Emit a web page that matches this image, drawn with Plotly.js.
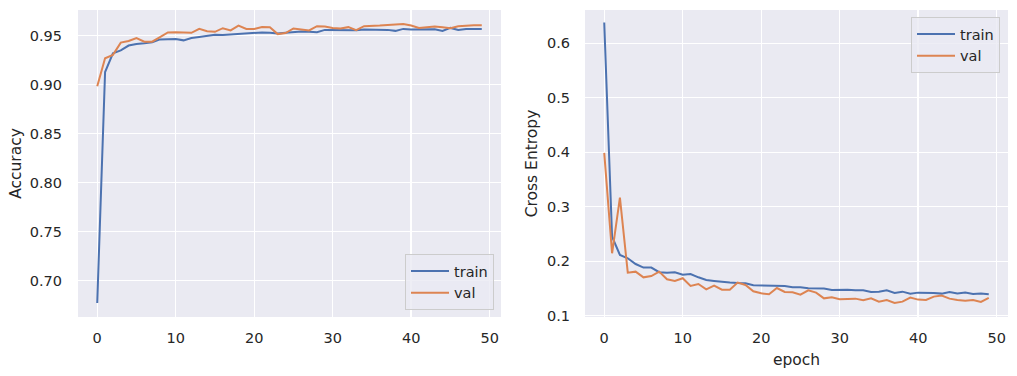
<!DOCTYPE html>
<html>
<head>
<meta charset="utf-8">
<script src="https://cdn.plot.ly/plotly-3.0.1.min.js"></script>
<style>
  html, body { margin: 0; padding: 0; background: #ffffff; }
  #chart { width: 1017px; height: 376px; }
</style>
</head>
<body>
<div id="chart"></div>
<script>
const epochs = Array.from({length: 50}, (_, i) => i);

const accTrain = [0.677, 0.913, 0.932, 0.935, 0.940, 0.9416, 0.9423, 0.9433, 0.9463, 0.9463,
  0.9466, 0.9453, 0.9476, 0.9487, 0.950, 0.951, 0.9507, 0.9513, 0.952, 0.9527,
  0.9534, 0.9534, 0.953, 0.9524, 0.953, 0.9537, 0.9544, 0.954, 0.9537, 0.956,
  0.956, 0.9557, 0.9554, 0.9557, 0.9564, 0.9564, 0.9557, 0.956, 0.955, 0.957,
  0.9564, 0.9564, 0.957, 0.9567, 0.955, 0.958, 0.956, 0.957, 0.957, 0.957];

const accVal = [0.8985, 0.927, 0.9305, 0.943, 0.9446, 0.9476, 0.944, 0.944, 0.9487, 0.9534,
  0.9537, 0.9537, 0.953, 0.957, 0.9547, 0.954, 0.9577, 0.9554, 0.9604, 0.957,
  0.957, 0.959, 0.9588, 0.9517, 0.9527, 0.9574, 0.9564, 0.9554, 0.9598, 0.9594,
  0.958, 0.9574, 0.9588, 0.9557, 0.9598, 0.9598, 0.9604, 0.961, 0.9618, 0.962,
  0.9604, 0.958, 0.9588, 0.9594, 0.9588, 0.9577, 0.9598, 0.9604, 0.9608, 0.9608];

const ceTrain = [0.638, 0.245, 0.2116, 0.2055, 0.195, 0.1884, 0.1884, 0.180, 0.179, 0.180,
  0.1755, 0.1767, 0.1706, 0.1657, 0.164, 0.162, 0.161, 0.160, 0.1596, 0.156,
  0.156, 0.1554, 0.1547, 0.1547, 0.1523, 0.1523, 0.1505, 0.150, 0.150, 0.1474,
  0.148, 0.148, 0.1468, 0.1468, 0.1437, 0.1443, 0.1468, 0.142, 0.1443, 0.1407,
  0.1425, 0.1425, 0.142, 0.1407, 0.1437, 0.141, 0.1425, 0.140, 0.141, 0.1395];

const ceVal = [0.399, 0.2147, 0.3168, 0.1792, 0.181, 0.1706, 0.173, 0.181, 0.167, 0.164,
  0.169, 0.1547, 0.1584, 0.1486, 0.1554, 0.148, 0.148, 0.161, 0.1566, 0.145,
  0.1413, 0.1394, 0.151, 0.1437, 0.143, 0.1388, 0.1468, 0.1425, 0.132, 0.134,
  0.1303, 0.131, 0.1315, 0.1284, 0.132, 0.126, 0.129, 0.1235, 0.126, 0.1333,
  0.1297, 0.129, 0.1352, 0.137, 0.1315, 0.129, 0.1278, 0.129, 0.1254, 0.1327];

const xTickVals = [0, 10, 20, 30, 40, 50];
const accTicks = [0.70, 0.75, 0.80, 0.85, 0.90, 0.95];
const ceTicks = [0.1, 0.2, 0.3, 0.4, 0.5, 0.6];

const BLUE = '#4C72B0', ORANGE = '#DD8452';
const TXT = '#262626';
const FONT = 'DejaVu Sans, sans-serif';

const traces = [
  {x: epochs, y: accTrain, name: 'train', mode: 'lines', line: {color: BLUE, width: 2}, xaxis: 'x', yaxis: 'y', legend: 'legend'},
  {x: epochs, y: accVal, name: 'val', mode: 'lines', line: {color: ORANGE, width: 2}, xaxis: 'x', yaxis: 'y', legend: 'legend'},
  {x: epochs, y: ceTrain, name: 'train', mode: 'lines', line: {color: BLUE, width: 2}, xaxis: 'x2', yaxis: 'y2', legend: 'legend2'},
  {x: epochs, y: ceVal, name: 'val', mode: 'lines', line: {color: ORANGE, width: 2}, xaxis: 'x2', yaxis: 'y2', legend: 'legend2'}
];

const axBase = {
  showgrid: true, gridcolor: '#ffffff', gridwidth: 1.3,
  zeroline: false, showline: false, ticks: '',
  tickfont: {family: FONT, size: 14.5, color: TXT},
  fixedrange: true
};

const legendBase = {
  font: {family: FONT, size: 14.5, color: TXT},
  bgcolor: 'rgba(234,234,242,0.8)', bordercolor: '#cccccc', borderwidth: 1,
  tracegroupgap: 0, itemwidth: 38
};

const layout = {
  width: 1017, height: 376,
  margin: {l: 0, r: 0, t: 10, b: 59},
  paper_bgcolor: '#ffffff', plot_bgcolor: '#EAEAF2',
  font: {family: FONT, color: TXT},
  xaxis: Object.assign({}, axBase, {
    domain: [78/1017, 501/1017], range: [-2.45, 51.45],
    tickvals: xTickVals, ticklabelstandoff: 10, anchor: 'y'
  }),
  yaxis: Object.assign({}, axBase, {
    range: [0.6628, 0.9763], tickvals: accTicks, tickformat: '.2f',
    ticklabelstandoff: 15, anchor: 'x',
    title: {text: 'Accuracy', font: {family: FONT, size: 15.5, color: TXT}, standoff: 4}
  }),
  xaxis2: Object.assign({}, axBase, {
    domain: [585/1017, 1008/1017], range: [-2.45, 51.45],
    tickvals: xTickVals, ticklabelstandoff: 10, anchor: 'y2',
    title: {text: 'epoch', font: {family: FONT, size: 15.5, color: TXT}, standoff: 9}
  }),
  yaxis2: Object.assign({}, axBase, {
    range: [0.0978, 0.661], tickvals: ceTicks, tickformat: '.1f',
    ticklabelstandoff: 14, anchor: 'x2',
    title: {text: 'Cross Entropy', font: {family: FONT, size: 15.5, color: TXT}, standoff: 5}
  }),
  legend: Object.assign({}, legendBase, {x: 494/1017, xanchor: 'right', y: (317-310)/307, yanchor: 'bottom'}),
  legend2: Object.assign({}, legendBase, {x: 1000/1017, xanchor: 'right', y: (317-17)/307, yanchor: 'top'}),
  showlegend: true
};

Plotly.newPlot('chart', traces, layout, {staticPlot: true, displayModeBar: false});
</script>
</body>
</html>
